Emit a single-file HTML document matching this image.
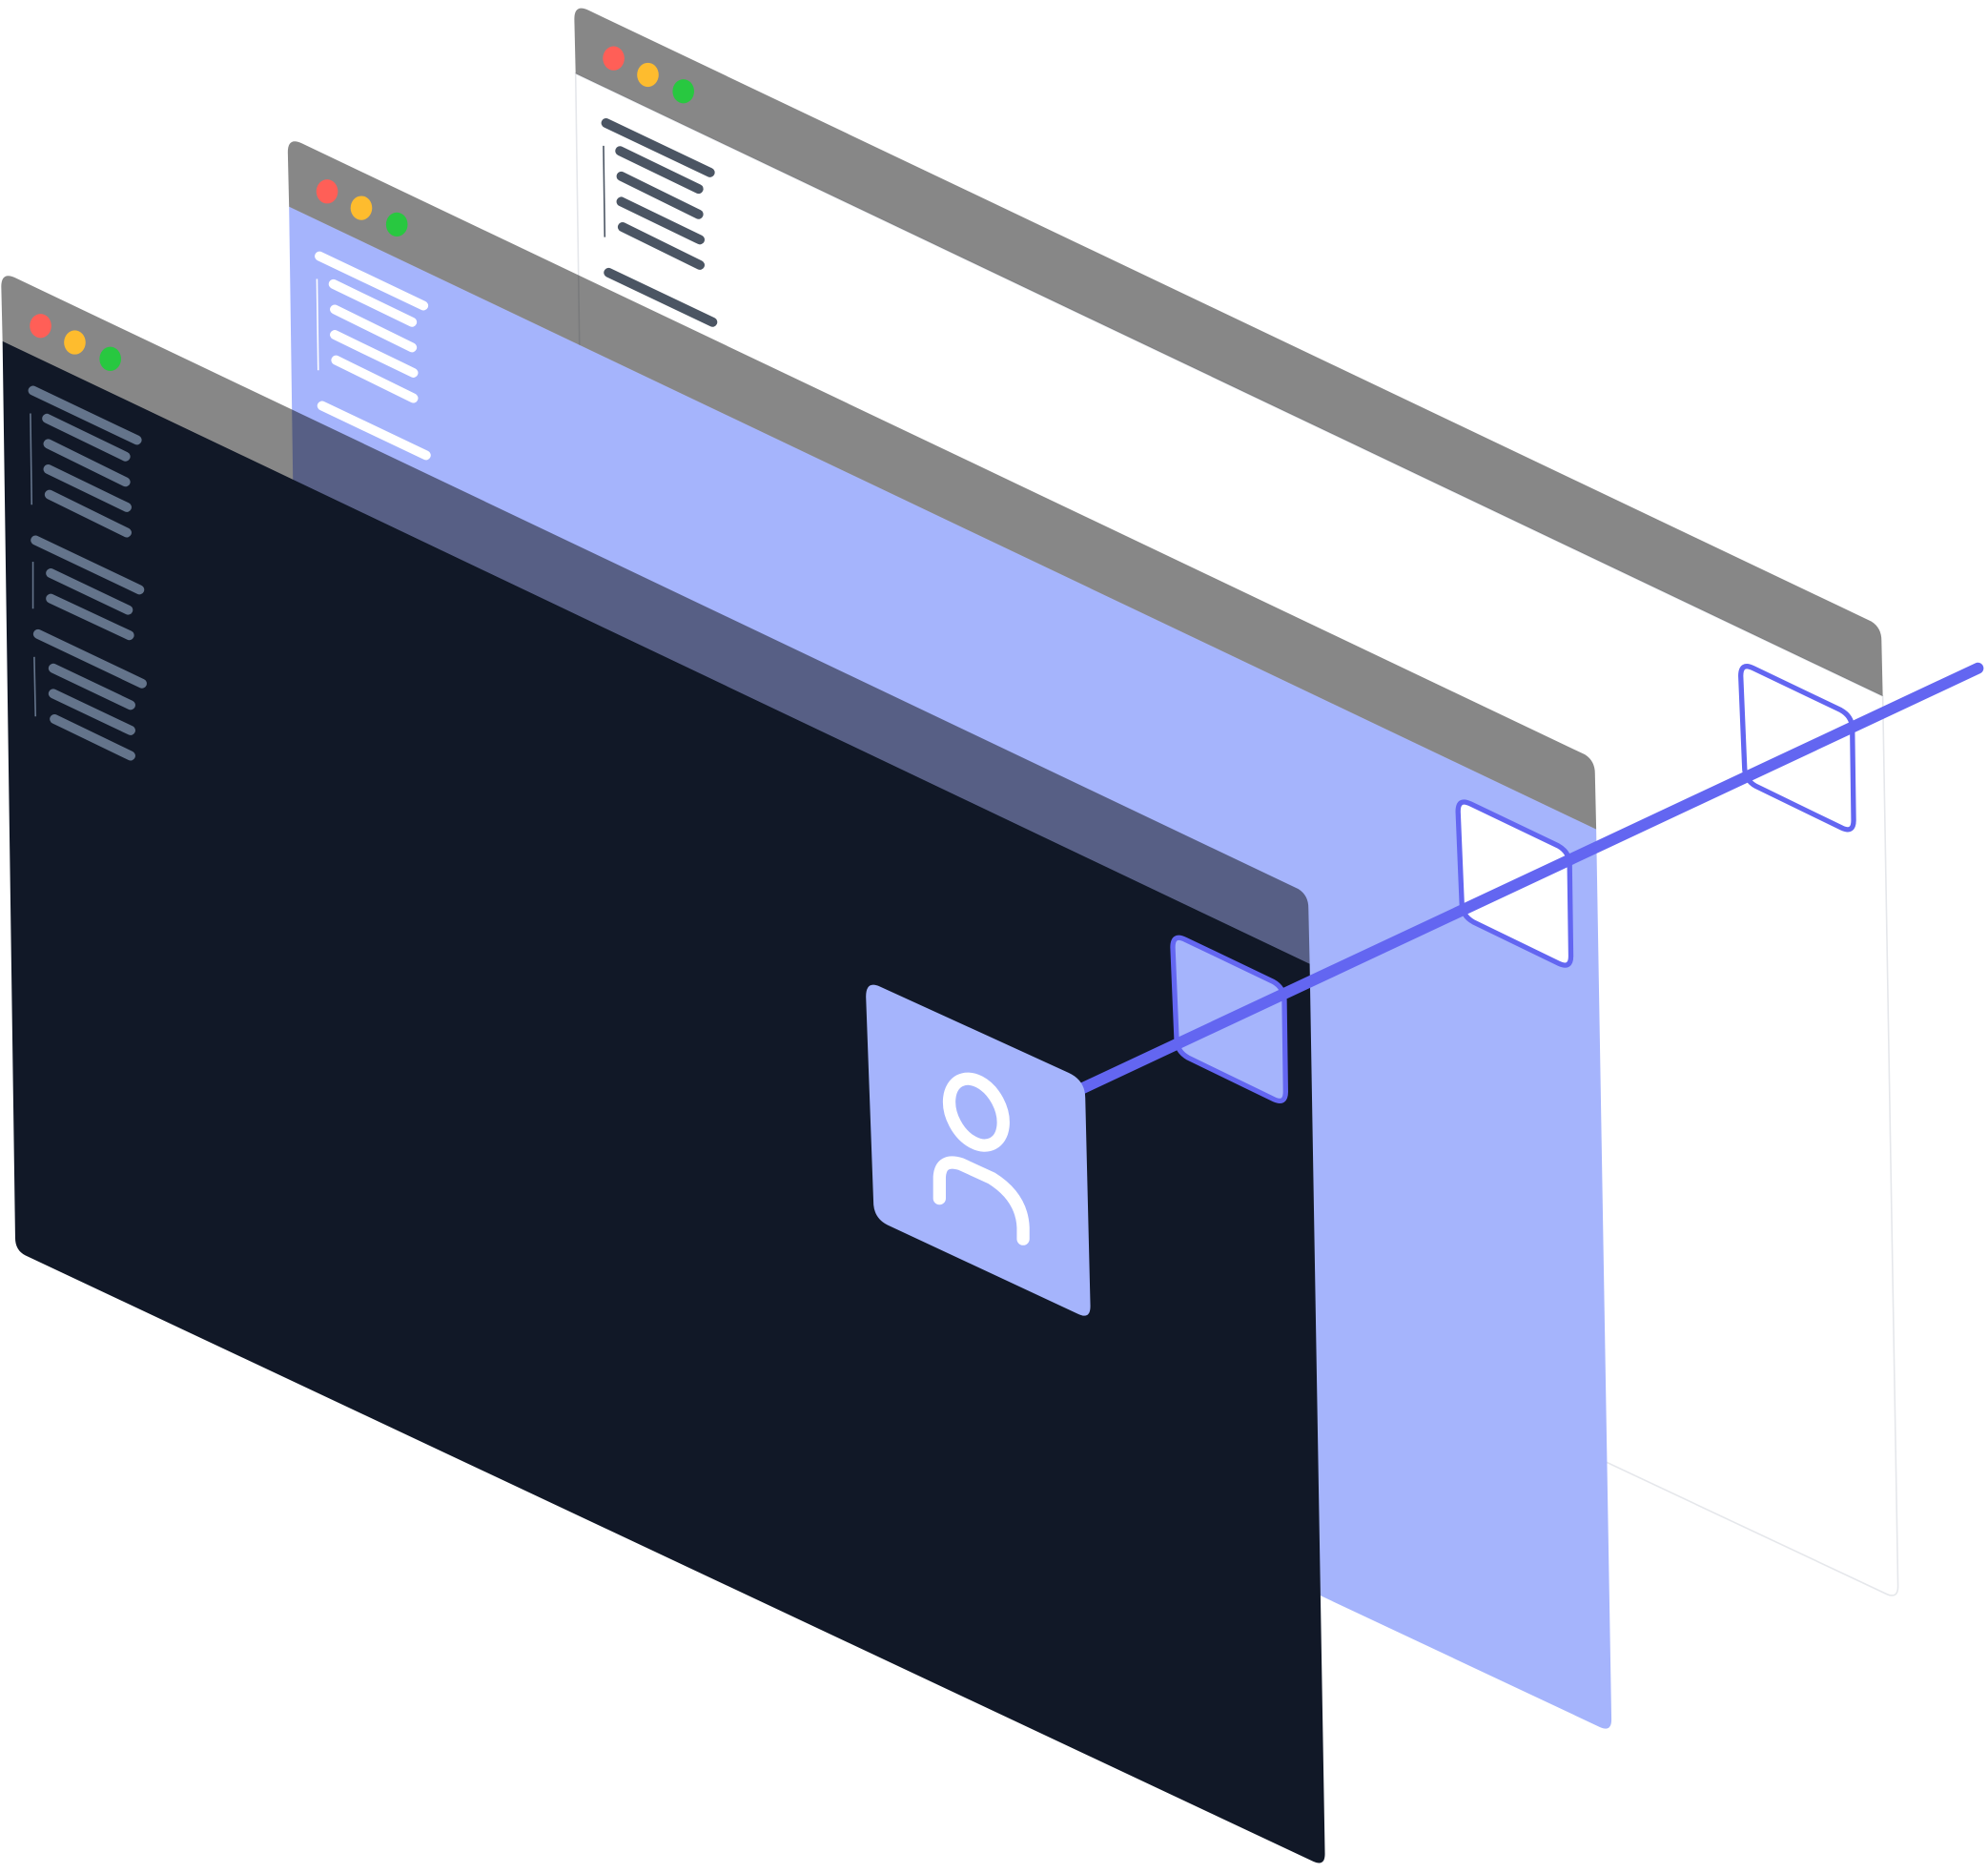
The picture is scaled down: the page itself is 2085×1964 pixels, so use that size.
<!DOCTYPE html>
<html><head><meta charset="utf-8"><style>
html,body{margin:0;padding:0;background:#fff;}
svg{display:block}
</style></head><body>
<svg width="2085" height="1964" viewBox="0 0 1568 1477" xmlns="http://www.w3.org/2000/svg">
<defs>
  <g id="lines6" stroke-linecap="round" stroke-width="7.5" fill="none">
    <line x1="26" y1="308" x2="108" y2="347"/>
    <line x1="37" y1="330" x2="99" y2="360"/>
    <line x1="38" y1="350" x2="99" y2="380"/>
    <line x1="38" y1="370" x2="100" y2="400"/>
    <line x1="39" y1="390" x2="100" y2="420"/>
    <line x1="28" y1="426" x2="110" y2="465"/>
  </g>
  <g id="linesrest" stroke-linecap="round" stroke-width="7.5" fill="none">
    <line x1="40" y1="452" x2="101" y2="481"/>
    <line x1="40" y1="472" x2="102" y2="501"/>
    <line x1="30" y1="500" x2="112" y2="539"/>
    <line x1="42" y1="527" x2="103" y2="556"/>
    <line x1="42" y1="547" x2="103" y2="576"/>
    <line x1="43" y1="567" x2="103" y2="596"/>
  </g>
  <g id="vline1" fill="none" stroke-width="1.2">
    <line x1="24" y1="326" x2="25" y2="398"/>
  </g>
  <g id="vline" fill="none" stroke-width="1.2">
    <line x1="26" y1="443" x2="26" y2="480"/>
    <line x1="27" y1="518" x2="28" y2="565"/>
  </g>
  <g id="dots">
    <ellipse cx="32" cy="257" rx="8.5" ry="9.5" fill="#ff5f57"/>
    <ellipse cx="59" cy="270" rx="8.5" ry="9.5" fill="#febc2e"/>
    <ellipse cx="87" cy="283" rx="8.5" ry="9.5" fill="#28c840"/>
  </g>
</defs>

<!-- BACK WINDOW -->
<g transform="translate(452,-211)">
  <path d="M2,269 L1033,760 L1045,1462 Q1045,1472 1036,1468 L20,990 Q12,986 12,976 Z" fill="#fff" stroke="#e5e7eb" stroke-width="1.2"/>
  <path d="M1,226 Q1,214 12,219 L1024,701 Q1032,706 1032,716 L1033,760 L2,269 Z" fill="rgba(0,0,0,0.47)"/>
  <g stroke="#4b5563"><use href="#lines6"/><use href="#vline1"/></g>
  <use href="#dots"/>
</g>

<!-- MIDDLE WINDOW -->
<g transform="translate(226,-106)">
  <path d="M2,269 L1033,760 L1045,1462 Q1045,1472 1036,1468 L20,990 Q12,986 12,976 Z" fill="#a5b4fc"/>
  <path d="M1,226 Q1,214 12,219 L1024,701 Q1032,706 1032,716 L1033,760 L2,269 Z" fill="rgba(0,0,0,0.47)"/>
  <g stroke="#ffffff"><use href="#lines6"/><use href="#vline1"/></g>
  <use href="#dots"/>
</g>

<!-- FRONT WINDOW -->
<g>
  <path d="M2,269 L1033,760 L1045,1462 Q1045,1472 1036,1468 L20,990 Q12,986 12,976 Z" fill="#111827"/>
  <path d="M1,226 Q1,214 12,219 L1024,701 Q1032,706 1032,716 L1033,760 L2,269 Z" fill="rgba(0,0,0,0.47)"/>
  <g stroke="#64748b"><use href="#lines6"/><use href="#linesrest"/><use href="#vline1"/><use href="#vline"/></g>
  <use href="#dots"/>
</g>

<!-- HOLES -->
<path d="M1373,533 Q1373,522 1383,527 L1452,560 Q1461,565 1461,575 L1462,647 Q1462,657 1453,653 L1385,620 Q1376,615 1376,605 Z" fill="#fff" stroke="#6366f1" stroke-width="4"/>
<path d="M1150,640 Q1150,629 1160,634 L1229,667 Q1238,672 1238,682 L1239,754 Q1239,764 1230,760 L1162,727 Q1153,722 1153,712 Z" fill="#fff" stroke="#6366f1" stroke-width="4"/>
<path d="M925,747 Q925,736 935,741 L1004,774 Q1013,779 1013,789 L1014,861 Q1014,871 1005,867 L937,834 Q928,829 928,819 Z" fill="#a5b4fc" stroke="#6366f1" stroke-width="4"/>

<!-- CONNECTOR -->
<line x1="850" y1="860" x2="1560" y2="527" stroke="#6366f1" stroke-width="9" stroke-linecap="round"/>

<!-- CARD -->
<path d="M683,786 Q683,773 694,778 L843,846 Q856,852 856,866 L860,1030 Q860,1041 850,1036 L700,966 Q690,961 689,950 Z" fill="#a5b4fc"/>
<g fill="none" stroke="#fff" stroke-width="10" stroke-linecap="round">
  <ellipse cx="770" cy="877" rx="19" ry="28" transform="rotate(-28 770 877)"/>
  <path d="M741,945 L741,928 Q742,913 758,918 L782,929 Q806,944 807,968 L807,977"/>
</g>
</svg>
</body></html>
